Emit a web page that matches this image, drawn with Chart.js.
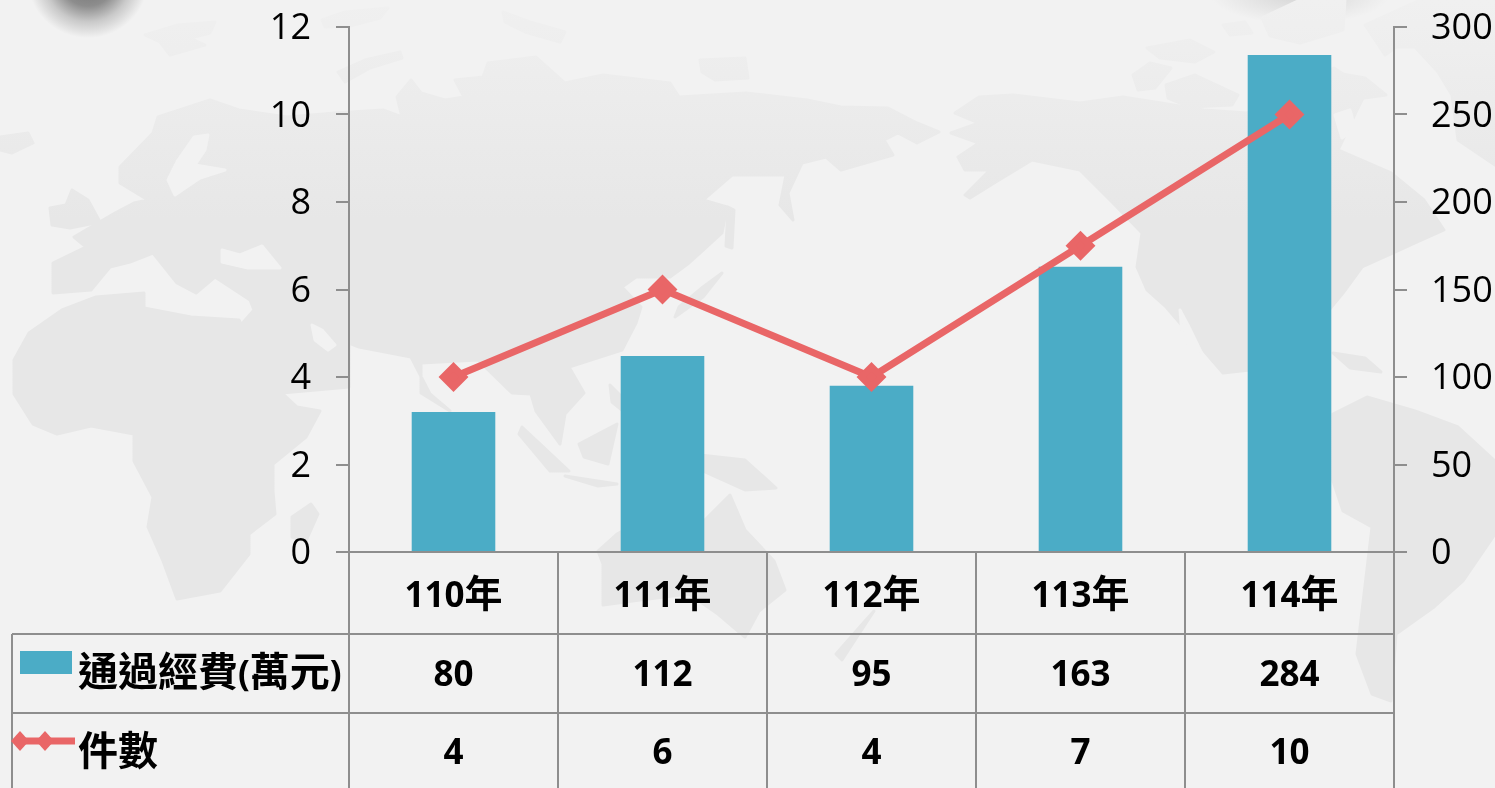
<!DOCTYPE html>
<html>
<head>
<meta charset="utf-8">
<title>通過經費與件數</title>
<script src="https://cdn.jsdelivr.net/npm/chart.js@4"></script>
<style>
  html, body { margin: 0; padding: 0; overflow: hidden; background: #f2f2f2; }
  #wrap { position: relative; width: 1495px; height: 788px; overflow: hidden;
    background:
      radial-gradient(ellipse 60px 58px at 88px -20px, #6e6e6e 0%, #8d8d8d 45%, #c9c9c9 72%, rgba(242,242,242,0) 100%) no-repeat,
      radial-gradient(ellipse 90px 30px at 1300px -6px, #d4d4d4 0%, rgba(242,242,242,0) 100%) no-repeat,
      #f2f2f2; }
  #map { position: absolute; left: 0; top: 0; }
  #plot { position: absolute; left: 0; top: 0; }
</style>
</head>
<body>
<div id="wrap">
  <!-- background world map, decoration only -->
  <svg id="map" width="1495" height="788" stroke-linejoin="round" stroke-width="3">
    <defs>
      <linearGradient id="land" gradientUnits="userSpaceOnUse" x1="0" y1="0" x2="0" y2="220">
        <stop offset="0" stop-color="#f0f0f0"/>
        <stop offset="1" stop-color="#e7e7e7"/>
      </linearGradient>
    </defs>
    <g fill="url(#land)" stroke="url(#land)">
      <!-- eurasia -->
      <path d="M120 167 L153 133 L158 117 L210 100 L239 110 L287 117 L335 113 L383 110 L402 117 L397 97 L411 80 L421 93 L445 100 L464 97 L455 80 L483 77 L488 63 L536 57 L565 83 L603 75 L670 83 L679 97 L746 93 L807 100 L841 107 L888 108 L917 123 L939 132 L917 143 L898 133 L884 140 L893 155 L841 170 L826 157 L802 163 L788 193 L793 220 L780 205 L786 175 L769 175 L745 175 L732 175 L703 200 L727 207 L722 233 L689 263 L670 277 L636 277 L622 287 L641 307 L636 323 L622 350 L569 367 L584 393 L574 404 L565 414 L560 444 L536 411 L531 394 L512 393 L478 360 L421 363 L421 393 L450 411 L430 394 L411 357 L359 347 L349 343 L349 387 L282 393 L239 327 L254 310 L250 300 L215 277 L196 293 L177 283 L153 253 L130 262 L110 267 L91 290 L53 293 L53 263 L86 247 L74 237 L115 213 L134 203 L148 200 L120 183Z"/>
      <!-- africa -->
      <path d="M14 360 L29 333 L62 310 L96 297 L144 293 L144 308 L191 317 L239 320 L258 357 L282 393 L297 407 L320 411 L306 437 L273 464 L273 491 L275 514 L249 534 L249 554 L220 591 L177 599 L163 561 L148 527 L153 497 L134 461 L134 434 L91 426 L57 434 L33 424 L14 394Z"/>
      <path d="M311 504 L318 514 L306 541 L292 537 L292 517Z"/>
      <!-- islands around europe and the arctic -->
      <path d="M0 137 L28 133 L33 143 L12 153 L0 150Z"/>
      <path d="M72 190 L88 200 L100 222 L70 228 L52 225 L50 208 L66 205Z"/>
      <path d="M145 35 L178 25 L215 22 L210 33 L190 38 L205 45 L170 55 L160 42Z"/>
      <path d="M322 20 L345 12 L388 8 L380 18 L350 26 L325 27Z"/>
      <path d="M338 72 L365 60 L400 52 L402 58 L370 68 L345 82Z"/>
      <path d="M503 12 L530 22 L565 32 L560 42 L525 32 L505 22Z"/>
      <path d="M700 60 L745 58 L748 78 L715 80 L702 72Z"/>
      <!-- japan, sakhalin -->
      <path d="M722 273 L703 297 L675 317 L679 307 L703 287Z"/>
      <path d="M728 207 L734 210 L732 248 L726 246Z"/>
      <!-- south east asia -->
      <path d="M522 427 L569 471 L550 471 L519 434Z"/>
      <path d="M565 476 L617 484 L598 486Z"/>
      <path d="M579 444 L617 424 L608 464 L584 457Z"/>
      <path d="M610 385 L625 400 L628 415 L612 402Z"/>
      <path d="M640 425 L655 415 L665 440 L650 450Z"/>
      <path d="M700 455 L745 460 L776 488 L745 490 L705 472Z"/>
      <!-- australia, new zealand -->
      <path d="M598 551 L617 534 L660 510 L690 512 L700 525 L730 495 L745 530 L774 561 L785 590 L759 611 L745 637 L718 614 L689 594 L640 600 L603 605 L603 564Z"/>
      <path d="M836 654 L865 621 L874 611 L855 640 L842 660Z"/>
      <!-- north america -->
      <path d="M955 113 L979 97 L1013 95 L1080 103 L1123 97 L1161 103 L1204 110 L1247 113 L1334 68 L1367 90 L1357 110 L1338 150 L1391 173 L1424 200 L1444 230 L1415 243 L1362 267 L1343 293 L1329 310 L1300 330 L1270 345 L1250 370 L1223 373 L1166 307 L1147 290 L1137 267 L1142 233 L1113 203 L1080 170 L1032 160 L999 180 L970 198 L965 195 L990 170 L965 170 L958 157 L979 143 L951 133 L979 123Z"/>
      <path d="M1166 85 L1195 75 L1238 95 L1232 105 L1190 107 L1168 98Z"/>
      <path d="M1133 75 L1150 63 L1171 68 L1155 88 L1138 90Z"/>
      <path d="M1147 48 L1190 40 L1214 52 L1195 62 L1160 58Z"/>
      <path d="M1262 18 L1300 0 L1345 0 L1343 30 L1300 43 L1270 36Z"/>
      <path d="M1223 25 L1245 22 L1252 33 L1230 35Z"/>
      <path d="M1331 72 L1365 78 L1386 95 L1350 100 L1335 90Z"/>
      <path d="M1333 353 L1365 358 L1381 372 L1350 368Z"/>
      <!-- greenland -->
      <path d="M1365 25 L1420 0 L1495 0 L1495 165 L1458 140 L1452 95 L1438 72 L1415 47 L1396 47 L1385 55Z"/>
      <!-- south america -->
      <path d="M1333 414 L1367 397 L1415 411 L1458 427 L1495 461 L1495 534 L1463 581 L1434 607 L1396 634 L1391 701 L1372 694 L1357 654 L1362 611 L1372 527 L1343 511 L1333 481Z"/>
    </g>
    <!-- inland seas -->
    <g fill="#f2f2f2" stroke="#f2f2f2">
      <path d="M194 137 L208 135 L205 150 L195 165 L225 170 L200 178 L175 195 L168 180 L178 160 Z"/>
      <path d="M222 250 L240 255 L262 246 L280 268 L248 268 L222 262Z"/>
      <path d="M312 325 L322 330 L335 345 L328 350 L315 340Z"/>
      <path d="M1335 115 L1350 110 L1355 128 L1342 138Z"/>
      <path d="M1180 310 L1188 325 L1205 360 L1195 355 L1182 335Z"/>
    </g>
  </svg>
  <canvas id="plot" width="1495" height="788"></canvas>
</div>
<script>
const categories = ['110年', '111年', '112年', '113年', '114年'];
const fundingLabel = '通過經費(萬元)';
const countLabel = '件數';
const fundingValues = [80, 112, 95, 163, 284];
const countValues = [4, 6, 4, 7, 10];

const barColor = '#4bacc6';
const lineColor = '#e96667';
const rule = '#8e8e8e';

const LATIN = '"Open Sans"';
const CJK = '"Noto Sans CJK TC"';

// latin and CJK runs have different sizes, so measure and draw them piece by piece
function splitRuns(text) {
  return text.match(/[\u0020-\u007e]+|[^\u0020-\u007e]+/g);
}

function fontFor(run, cjkSize) {
  return /[\u0020-\u007e]/.test(run) ? 'bold 35px ' + LATIN : 'bold ' + cjkSize + 'px ' + CJK;
}

function drawMixed(ctx, text, x, y, centered, cjkSize) {
  const runs = splitRuns(text);
  let total = 0;
  runs.forEach(function(run) {
    ctx.font = fontFor(run, cjkSize);
    total += ctx.measureText(run).width;
  });
  let left = centered ? x - total / 2 : x;
  runs.forEach(function(run) {
    ctx.font = fontFor(run, cjkSize);
    ctx.fillText(run, left, y);
    left += ctx.measureText(run).width;
  });
}

const dataTablePlugin = {
  id: 'data_table',
  afterDraw: (chart) => {
    const ctx = chart.ctx;
    const xScale = chart.scales.x;
    const area = chart.chartArea;
    const step = xScale.getPixelForValue(1) - xScale.getPixelForValue(0);
    const rows = [634, 713];
    const tableLeft = 12;
    const tableBottom = 788;

    ctx.save();
    ctx.strokeStyle = rule;
    ctx.lineWidth = 2;
    ctx.beginPath();
    rows.forEach(function(y) {
      ctx.moveTo(tableLeft, y);
      ctx.lineTo(area.right, y);
    });
    ctx.moveTo(tableLeft, rows[0]);
    ctx.lineTo(tableLeft, tableBottom);
    for (let i = 0; i <= categories.length; i++) {
      const x = area.left + i * step;
      ctx.moveTo(x, area.bottom);
      ctx.lineTo(x, tableBottom);
    }
    ctx.stroke();

    ctx.fillStyle = '#000';
    ctx.textBaseline = 'alphabetic';
    ctx.textAlign = 'left';
    categories.forEach(function(cat, i) {
      const cx = xScale.getPixelForValue(i);
      drawMixed(ctx, cat, cx, 607, true, 38);
      drawMixed(ctx, String(fundingValues[i]), cx, 686, true, 38);
      drawMixed(ctx, String(countValues[i]), cx, 764, true, 38);
    });
    drawMixed(ctx, fundingLabel, 78, 686, false, 40);
    drawMixed(ctx, countLabel, 78, 765, false, 40);

    // legend keys
    ctx.fillStyle = barColor;
    ctx.fillRect(20, 651, 52, 23);
    ctx.strokeStyle = lineColor;
    ctx.lineWidth = 7;
    ctx.beginPath();
    ctx.moveTo(20, 741);
    ctx.lineTo(75, 741);
    ctx.stroke();
    ctx.fillStyle = lineColor;
    [20, 45].forEach(function(x) {
      ctx.beginPath();
      ctx.moveTo(x - 9, 741);
      ctx.lineTo(x, 731);
      ctx.lineTo(x + 9, 741);
      ctx.lineTo(x, 751);
      ctx.closePath();
      ctx.fill();
    });
    ctx.restore();
  }
};

const tickFont = { family: LATIN, size: 36 };

// tick padding would otherwise be added above the top tick and push the plot down
function fitAxis(width) {
  return (scale) => {
    scale.width = width;
    scale.paddingTop = 0;
    scale.paddingBottom = 0;
  };
}

new Chart(document.getElementById('plot').getContext('2d'), {
  type: 'bar',
  plugins: [dataTablePlugin],
  data: {
    labels: categories,
    datasets: [
      {
        type: 'line',
        label: countLabel,
        data: countValues,
        yAxisID: 'y',
        order: 0,
        borderColor: lineColor,
        backgroundColor: lineColor,
        borderWidth: 7,
        tension: 0,
        pointStyle: 'rectRot',
        pointRadius: 10,
        pointHoverRadius: 10
      },
      {
        type: 'bar',
        label: fundingLabel,
        data: fundingValues,
        yAxisID: 'y1',
        order: 1,
        backgroundColor: barColor,
        categoryPercentage: 1,
        barPercentage: 0.4
      }
    ]
  },
  options: {
    responsive: false,
    animation: false,
    devicePixelRatio: 1,
    layout: { padding: { top: 27, left: 0, right: 0, bottom: 0 } },
    plugins: { legend: { display: false }, tooltip: { enabled: false } },
    scales: {
      x: {
        grid: { display: false },
        border: { color: rule, width: 2 },
        ticks: { display: false },
        afterFit: (scale) => { scale.height = 236; }
      },
      y: {
        position: 'left',
        min: 0,
        max: 12,
        grid: { drawOnChartArea: false, color: rule, lineWidth: 2, tickLength: 13 },
        border: { color: rule, width: 2 },
        ticks: { stepSize: 2, color: '#000', font: tickFont, padding: 25, labelOffset: 2 },
        afterFit: fitAxis(349)
      },
      y1: {
        position: 'right',
        min: 0,
        max: 300,
        grid: { drawOnChartArea: false, color: rule, lineWidth: 2, tickLength: 13 },
        border: { color: rule, width: 2 },
        ticks: { stepSize: 50, color: '#000', font: tickFont, padding: 24, labelOffset: 2 },
        afterFit: fitAxis(101)
      }
    }
  }
});
</script>
</body>
</html>
